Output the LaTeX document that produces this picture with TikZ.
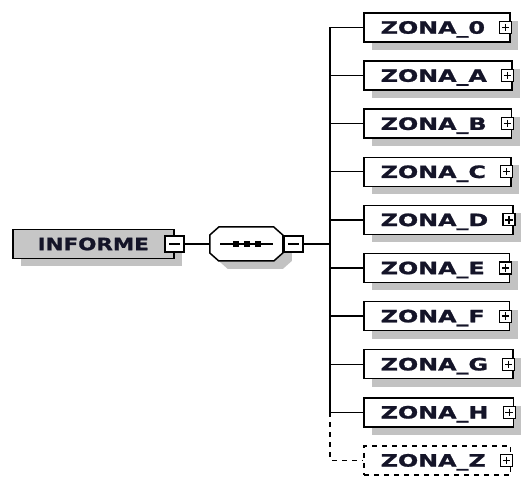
\documentclass[tikz,border=0pt]{standalone}
\usepackage{fontspec}
\usetikzlibrary{shadows}
\newfontfamily\zonefont[FakeStretch=1.4,FakeBold=1.2]{DejaVu Sans Bold}
\newfontfamily\rootfont[FakeStretch=1.26,FakeBold=1.2]{DejaVu Sans Bold}
\definecolor{shc}{HTML}{C2C2C2}
\definecolor{rootfill}{HTML}{C6C6C6}
\definecolor{txt}{HTML}{141428}
\begin{document}
\begin{tikzpicture}[x=1pt,y=-1pt,
  box/.style={draw, line width=1.5pt, inner sep=0pt, minimum height=29pt, text height=12.4pt, text depth=0pt, text=txt},
  shd/.style={drop shadow={shadow xshift=8pt, shadow yshift=-8pt, fill=shc, opacity=1}},
  zone/.style={box, fill=white, anchor=west, font=\zonefont\fontsize{17}{20}\selectfont},
  plusb/.style={draw, fill=white, line width=1.1pt, minimum width=12pt, minimum height=12pt, inner sep=0pt,
    path picture={\draw[line width=1.3pt] ([xshift=2.3pt]path picture bounding box.west) -- ([xshift=-2.3pt]path picture bounding box.east);
                  \draw[line width=1.3pt] ([yshift=-2.3pt]path picture bounding box.north) -- ([yshift=2.3pt]path picture bounding box.south);}},
  minusb/.style={draw, fill=white, line width=1.3pt, minimum width=19pt, minimum height=16pt, inner sep=0pt,
    path picture={\draw[line width=1.3pt] ([xshift=4pt]path picture bounding box.west) -- ([xshift=-4pt]path picture bounding box.east);}},
  conn/.style={line width=1.4pt},
  dconn/.style={line width=1.4pt, dash pattern=on 5pt off 5pt}
]
\useasboundingbox (0,0) rectangle (522,478);

% root
\node[box, fill=rootfill, shd, anchor=west, minimum width=161pt, font=\rootfont\fontsize{17}{20}\selectfont] (inf) at (12,244) {INFORME};
\node[minusb] (m1) at (inf.east) {};

% sequence (octagon)
\node[minimum width=73pt, minimum height=34pt, inner sep=0pt] (seq) at (246.5,244) {};
\fill[shc] ([shift={(9,8)}]seq.west) -- ++(0,-9) -- ++(9,-8) -- ++(55,0) -- ++(9,8) -- ++(0,18) -- ++(-9,8) -- ++(-55,0) -- ++(-9,-8) -- cycle;
\draw[line width=1.5pt, fill=white] (seq.west) -- ++(0,-9) -- ++(9,-8) -- ++(55,0) -- ++(9,8) -- ++(0,18) -- ++(-9,8) -- ++(-55,0) -- ++(-9,-8) -- cycle;
\node[minusb, anchor=west] (m2) at (seq.east) {};
\draw[conn] ([xshift=-26.5pt]seq.center) -- ([xshift=26.5pt]seq.center);
\foreach \dx in {-11,0,11}{
  \fill[black] ([xshift=\dx pt]seq.center) ++(-3,-2.8) rectangle ++(6,5.6);
}
\draw[conn] (m1.east) -- (seq.west);

% zones
\foreach \n [count=\i from 0] in {0,A,B,C,D,E,F,G,H}{
  \node[zone, shd] (z\n) at (363,27.5+48.1*\i) {\hspace*{17pt}ZONA\_\n\hspace*{25pt}};
  \node[plusb] (p\n) at ([xshift=-5pt]z\n.east) {};
  \coordinate (j\n) at ([xshift=-33pt]z\n.west);
  \draw[conn] (j\n) -- (z\n.west);
}
\node[zone, dash pattern=on 5pt off 5pt] (zZ) at (363,460.4) {\hspace*{17pt}ZONA\_Z\hspace*{25pt}};
\node[plusb] (pZ) at ([xshift=-5pt]zZ.east) {};
\coordinate (jZ) at ([xshift=-33pt]zZ.west);

\draw[conn] (j0) -- (jH);
\draw[dconn] (jH) -- (jZ) -- (zZ.west);
\draw[conn] (m2.east) -- (m2.east -| j0);
\end{tikzpicture}
\end{document}
